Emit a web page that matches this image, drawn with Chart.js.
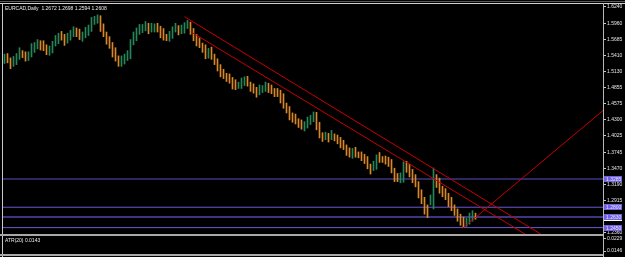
<!DOCTYPE html>
<html><head><meta charset="utf-8">
<script src="https://cdn.jsdelivr.net/npm/chart.js@4.4.0/dist/chart.umd.min.js"></script>
<style>
html,body{margin:0;padding:0;background:#000;}
#wrap{position:relative;width:625px;height:257px;background:#000;overflow:hidden;}
#main{position:absolute;left:0;top:0;}
#atr{position:absolute;left:0;top:236px;}
.ln{position:absolute;}
</style></head><body>
<div id="wrap">
<canvas id="main" width="625" height="234"></canvas>
<canvas id="atr" width="625" height="18"></canvas>
<div class="ln" style="left:0;top:1px;width:625px;height:1px;background:#5a5a5a"></div>
<div class="ln" style="left:0;top:3px;width:625px;height:1px;background:#d0d0d0"></div>
<div class="ln" style="left:2px;top:3px;width:1px;height:254px;background:#c8c8c8"></div>
<div class="ln" style="left:603px;top:3px;width:1px;height:254px;background:#b8b8b8"></div>
<div class="ln" style="left:0;top:234px;width:603px;height:2px;background:#a8a8a8"></div>
<div class="ln" style="left:0;top:254px;width:603px;height:2px;background:#a8a8a8"></div>
</div>
<script>
const symbolName = 'EURCAD,Daily';
const opens = [1.5330,1.5364,1.5329,1.5278,1.5329,1.5381,1.5449,1.5415,1.5381,1.5415,
1.5535,1.5570,1.5604,1.5587,1.5553,1.5467,1.5501,1.5604,1.5673,1.5742,
1.5724,1.5673,1.5707,1.5793,1.5827,1.5793,1.5724,1.5759,1.5827,1.5862,
1.5982,1.6034,1.6051,1.5879,1.5776,1.5673,1.5587,1.5467,1.5364,1.5295,
1.5329,1.5364,1.5415,1.5638,1.5742,1.5827,1.5845,1.5896,1.5913,1.5845,
1.5879,1.5896,1.5862,1.5793,1.5724,1.5707,1.5759,1.5845,1.5879,1.5827,
1.5862,1.5913,1.5948,1.5810,1.5724,1.5638,1.5587,1.5535,1.5390,1.5480,
1.5398,1.5295,1.5209,1.5106,1.5054,1.5037,1.4986,1.4917,1.4883,1.4900,
1.4951,1.4986,1.4917,1.4865,1.4814,1.4779,1.4814,1.4848,1.4883,1.4831,
1.4797,1.4779,1.4762,1.4676,1.4556,1.4470,1.4367,1.4333,1.4281,1.4247,
1.4195,1.4213,1.4264,1.4333,1.4384,1.4195,1.4041,1.4006,1.4024,1.4006,
1.4024,1.3989,1.3955,1.3886,1.3835,1.3766,1.3714,1.3749,1.3714,1.3697,
1.3663,1.3611,1.3508,1.3474,1.3525,1.3646,1.3628,1.3611,1.3600,1.3560,
1.3439,1.3319,1.3302,1.3300,1.3520,1.3480,1.3400,1.3290,1.3200,1.3050,
1.2924,1.2760,1.2870,1.2950,1.3300,1.3230,1.3120,1.3060,1.2990,1.2900,
1.2800,1.2710,1.2640,1.2560,1.2500,1.2560,1.2620,1.2672];
const highs = [1.5430,1.5440,1.5365,1.5390,1.5440,1.5540,1.5490,1.5470,1.5470,1.5610,
1.5630,1.5680,1.5660,1.5660,1.5590,1.5570,1.5650,1.5750,1.5790,1.5820,
1.5770,1.5790,1.5840,1.5900,1.5880,1.5860,1.5810,1.5890,1.5930,1.6060,
1.6080,1.6105,1.6090,1.5950,1.5810,1.5730,1.5630,1.5540,1.5400,1.5400,
1.5430,1.5490,1.5680,1.5810,1.5880,1.5940,1.5940,1.5990,1.5960,1.5960,
1.5950,1.5960,1.5910,1.5870,1.5770,1.5820,1.5900,1.5960,1.5920,1.5930,
1.5970,1.6010,1.5980,1.5870,1.5770,1.5710,1.5620,1.5590,1.5530,1.5550,
1.5430,1.5350,1.5250,1.5170,1.5100,1.5090,1.5030,1.4990,1.4950,1.5020,
1.5040,1.5050,1.4950,1.4920,1.4860,1.4900,1.4890,1.4950,1.4930,1.4900,
1.4840,1.4840,1.4810,1.4750,1.4590,1.4530,1.4420,1.4400,1.4320,1.4300,
1.4270,1.4350,1.4380,1.4436,1.4430,1.4260,1.4080,1.4090,1.4070,1.4120,
1.4060,1.4040,1.4000,1.3950,1.3870,1.3820,1.3810,1.3830,1.3750,1.3750,
1.3710,1.3670,1.3540,1.3590,1.3700,1.3740,1.3670,1.3680,1.3660,1.3620,
1.3470,1.3380,1.3390,1.3580,1.3590,1.3540,1.3450,1.3360,1.3240,1.3100,
1.2970,1.2840,1.3010,1.3474,1.3360,1.3300,1.3160,1.3120,1.3040,1.2970,
1.2840,1.2770,1.2680,1.2630,1.2610,1.2700,1.2740,1.2698];
const lows = [1.5270,1.5280,1.5180,1.5220,1.5250,1.5340,1.5370,1.5310,1.5320,1.5380,
1.5460,1.5520,1.5500,1.5490,1.5420,1.5410,1.5450,1.5570,1.5610,1.5670,
1.5580,1.5620,1.5670,1.5730,1.5730,1.5680,1.5650,1.5710,1.5750,1.5820,
1.5940,1.5960,1.5820,1.5730,1.5600,1.5530,1.5380,1.5310,1.5220,1.5220,
1.5260,1.5320,1.5350,1.5590,1.5660,1.5770,1.5800,1.5830,1.5780,1.5810,
1.5810,1.5810,1.5710,1.5670,1.5660,1.5650,1.5700,1.5810,1.5760,1.5780,
1.5790,1.5870,1.5770,1.5660,1.5570,1.5540,1.5460,1.5350,1.5360,1.5340,
1.5250,1.5140,1.5040,1.5010,1.4960,1.4930,1.4830,1.4820,1.4840,1.4840,
1.4890,1.4880,1.4790,1.4760,1.4690,1.4730,1.4770,1.4790,1.4770,1.4750,
1.4700,1.4700,1.4590,1.4500,1.4420,1.4300,1.4260,1.4230,1.4170,1.4140,
1.4110,1.4160,1.4220,1.4270,1.4130,1.3990,1.3930,1.3960,1.3920,1.3960,
1.3940,1.3890,1.3820,1.3790,1.3690,1.3660,1.3640,1.3660,1.3650,1.3600,
1.3550,1.3460,1.3370,1.3430,1.3450,1.3570,1.3570,1.3540,1.3500,1.3390,
1.3240,1.3240,1.3220,1.3230,1.3400,1.3320,1.3220,1.3150,1.2960,1.2860,
1.2680,1.2620,1.2840,1.2770,1.3140,1.3040,1.2980,1.2930,1.2810,1.2740,
1.2660,1.2560,1.2490,1.2452,1.2470,1.2510,1.2560,1.2594];
const closes = [1.5364,1.5329,1.5278,1.5329,1.5381,1.5449,1.5415,1.5381,1.5415,1.5535,
1.5570,1.5604,1.5587,1.5553,1.5467,1.5501,1.5604,1.5673,1.5742,1.5724,
1.5673,1.5707,1.5793,1.5827,1.5793,1.5724,1.5759,1.5827,1.5862,1.5982,
1.6034,1.6051,1.5879,1.5776,1.5673,1.5587,1.5467,1.5364,1.5295,1.5329,
1.5364,1.5415,1.5638,1.5742,1.5827,1.5845,1.5896,1.5913,1.5845,1.5879,
1.5896,1.5862,1.5793,1.5724,1.5707,1.5759,1.5845,1.5879,1.5827,1.5862,
1.5913,1.5948,1.5810,1.5724,1.5638,1.5587,1.5535,1.5400,1.5480,1.5398,
1.5295,1.5209,1.5106,1.5054,1.5037,1.4986,1.4917,1.4883,1.4900,1.4951,
1.4986,1.4917,1.4865,1.4814,1.4779,1.4814,1.4848,1.4883,1.4831,1.4797,
1.4779,1.4762,1.4676,1.4556,1.4470,1.4367,1.4333,1.4281,1.4247,1.4195,
1.4213,1.4264,1.4333,1.4384,1.4195,1.4041,1.4006,1.4024,1.4006,1.4024,
1.3989,1.3955,1.3886,1.3835,1.3766,1.3714,1.3749,1.3714,1.3697,1.3663,
1.3611,1.3508,1.3474,1.3525,1.3646,1.3628,1.3611,1.3600,1.3560,1.3439,
1.3319,1.3302,1.3336,1.3520,1.3480,1.3400,1.3290,1.3200,1.3050,1.2924,
1.2760,1.2700,1.2960,1.3300,1.3230,1.3120,1.3060,1.2990,1.2900,1.2800,
1.2710,1.2640,1.2560,1.2500,1.2560,1.2620,1.2672,1.2608];

const priceTicks = [1.6240,1.5960,1.5685,1.5410,1.5130,1.4855,1.4575,1.4300,1.4025,1.3745,1.3470,1.3190,1.2915,1.2360];
const levelValues = [1.3285,1.2800,1.2630,1.2450];
const levelLabels = ['1.3285','1.2800','1.2630','1.2450'];
const trendUpper = [[60,1.6073],[178.7,1.2340]];
const trendLower = [[62.8,1.5793],[173.5,1.2340]];
const trendRise = [[152.8,1.2443],[199.5,1.4462]];
const atrTicks = [0.0229,0.0146];
const atrLabel = 'ATR(20) 0.0143';

const GREEN = '#27855a', ORANGE = '#dc8726';
const XMIN = -0.5, XMAX = 199.5;
const FONT = '"Liberation Sans", Arial, sans-serif';
const barCol = closes.map((c,i)=> c > opens[i] ? GREEN : ORANGE);
const last = closes.length - 1;
const titleText = symbolName + '  ' + [opens[last],highs[last],lows[last],closes[last]].map(v=>v.toFixed(4)).join(' ');

const levelStyles = [
  {c:'#2e2762', w:2},{c:'#6a58d2', w:1},{c:'#3d3584', w:2},{c:'#6a58d2', w:1}
];

const datasets = [];
levelValues.forEach((v,k)=>{
  datasets.push({type:'line', data:[{x:XMIN,y:v},{x:XMAX,y:v}], borderColor:levelStyles[k].c, borderWidth:levelStyles[k].w, pointRadius:0, order:5});
});
datasets.push({type:'bar', grouped:false, order:2, barThickness:1,
  data: highs.map((h,i)=>({x:i, y:[lows[i], h]})), backgroundColor: barCol, borderWidth:0});
[trendUpper, trendLower, trendRise].forEach(t=>{
  datasets.push({type:'line', data:t.map(p=>({x:p[0], y:p[1]})), borderColor:'#c80000', borderWidth:1, pointRadius:0, order:1});
});

const overlay = {
  id:'overlay',
  afterDraw(chart){
    const {ctx, chartArea, scales:{y}} = chart;
    ctx.save();
    ctx.font = '5px ' + FONT;
    ctx.textBaseline = 'middle'; ctx.textAlign = 'left';
    ctx.fillStyle = '#ececec';
    ctx.fillText(titleText, chartArea.left + 2, chartArea.top + 3.5);
    const yb = y.getPixelForValue(closes[last]);
    ctx.fillStyle = '#ffffff';
    ctx.fillRect(chartArea.right, Math.round(yb) - 3, 19, 6);
    levelValues.forEach((v,k)=>{
      const yy = Math.round(y.getPixelForValue(v));
      ctx.fillStyle = '#6f62dc';
      ctx.fillRect(chartArea.right, yy - 3, 19, 6);
      ctx.fillStyle = '#e8e6ff';
      ctx.fillText(levelLabels[k], chartArea.right + 3, yy + 0.5);
    });
    ctx.restore();
  }
};

function fitAxis(s){ s.width = 22; s.paddingTop = 0; s.paddingBottom = 0; }

new Chart(document.getElementById('main'), {
  type:'bar',
  data:{datasets},
  options:{
    responsive:false, animation:false, events:[], devicePixelRatio:1,
    layout:{padding:{left:3, top:5, right:0, bottom:0}},
    plugins:{legend:{display:false}, tooltip:{enabled:false}},
    scales:{
      x:{type:'linear', min:XMIN, max:XMAX, offset:false, display:false},
      y:{position:'right', min:1.2340, max:1.6274, beginAtZero:false,
         afterFit:fitAxis,
         afterBuildTicks:s=>{s.ticks = priceTicks.map(v=>({value:v}));},
         ticks:{color:'#e6e6e6', font:{family:FONT, size:5}, padding:1, autoSkip:false, maxRotation:0, callback:v=>Number(v).toFixed(4)},
         grid:{drawOnChartArea:false, tickLength:3, tickColor:'#c8c8c8', tickWidth:1},
         border:{display:false}}
    }
  },
  plugins:[overlay]
});

const atrOverlay = {
  id:'atrOverlay',
  afterDraw(chart){
    const {ctx, chartArea} = chart;
    ctx.save();
    ctx.font = '5px ' + FONT;
    ctx.textBaseline = 'middle'; ctx.textAlign = 'left';
    ctx.fillStyle = '#ececec';
    ctx.fillText(atrLabel, chartArea.left + 2, chartArea.top + 5);
    ctx.restore();
  }
};

new Chart(document.getElementById('atr'), {
  type:'line',
  data:{datasets:[{data:[], borderColor:'#000', pointRadius:0}]},
  options:{
    responsive:false, animation:false, events:[], devicePixelRatio:1,
    layout:{padding:{left:3, top:0, right:0, bottom:0}},
    plugins:{legend:{display:false}, tooltip:{enabled:false}},
    scales:{
      x:{type:'linear', min:XMIN, max:XMAX, display:false},
      y:{position:'right', min:0.01264, max:0.0244,
         afterFit:fitAxis,
         afterBuildTicks:s=>{s.ticks = atrTicks.map(v=>({value:v}));},
         ticks:{color:'#e6e6e6', font:{family:FONT, size:5}, padding:1, autoSkip:false, maxRotation:0, callback:v=>Number(v).toFixed(4)},
         grid:{drawOnChartArea:false, tickLength:3, tickColor:'#c8c8c8', tickWidth:1},
         border:{display:false}}
    }
  },
  plugins:[atrOverlay]
});
</script>
</body></html>
